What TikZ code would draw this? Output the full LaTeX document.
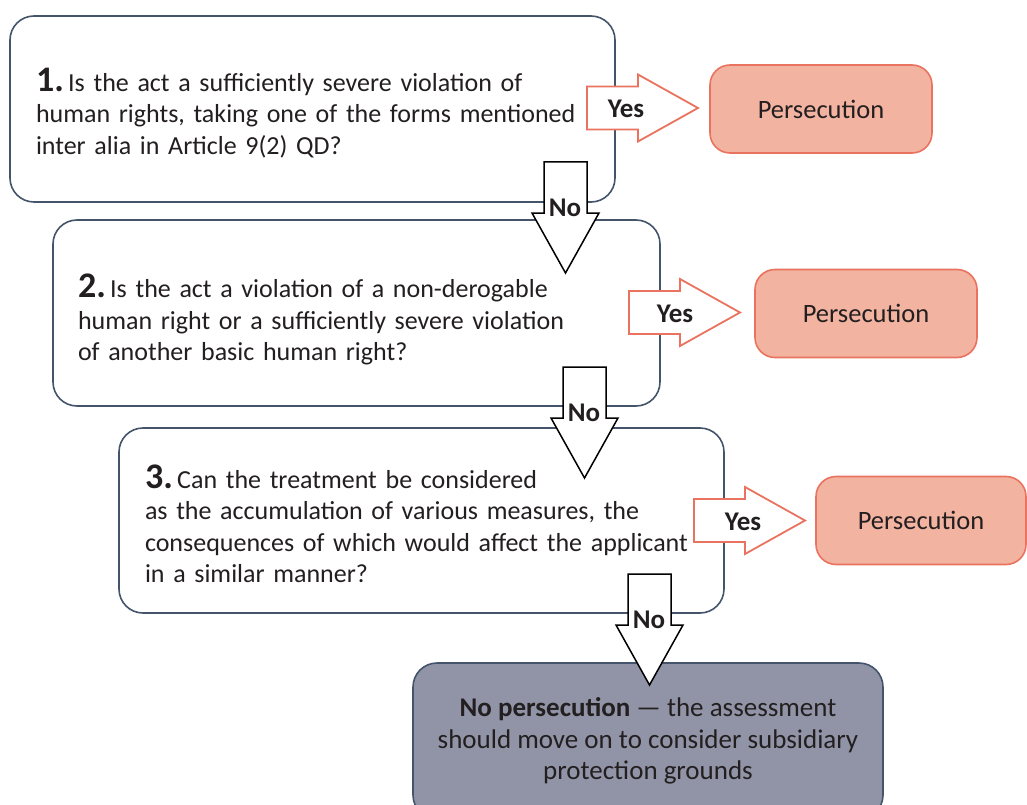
\documentclass[tikz,border=0pt]{standalone}
\usepackage{fontspec}
\setmainfont{Carlito}

\definecolor{boxline}{HTML}{44546A}
\definecolor{persline}{HTML}{E9735F}
\definecolor{persfill}{HTML}{F2B3A0}
\definecolor{finalfill}{HTML}{9094A6}
\definecolor{txt}{HTML}{231F20}

\tikzset{
  every node/.style={font=\fontsize{26}{31.5}\selectfont, text=txt},
  question/.style={draw=boxline, line width=1.6pt, fill=white, rounded corners=24pt,
    inner xsep=26pt, minimum height=186pt, text width=553pt, align=left},
  outcome/.style={draw=persline, fill=persfill, line width=1.6pt, rounded corners=20pt,
    minimum width=222pt, minimum height=88pt, font=\fontsize{26.5}{31.5}\selectfont},
  final/.style={draw=boxline, fill=finalfill, line width=1.6pt, rounded corners=24pt,
    minimum width=470pt, minimum height=156pt, align=center},
  yesarrow/.style={draw=persline, fill=white, line width=1.8pt},
  noarrow/.style={draw=black, fill=white, line width=1.5pt},
  arrowlbl/.style={font=\fontsize{27}{30}\selectfont\bfseries},
  pics/bigarrow/.style={code={
    \draw[#1] (0,-21.5) -- (51,-21.5) -- (51,-33.5) -- (111,0) -- (51,33.5)
      -- (51,21.5) -- (0,21.5) -- cycle;
  }}
}

% big bold step number, with a strut to push the text block down a little
\newcommand{\stepno}[2][31pt]{{\rule{0pt}{#1}\fontsize{36}{31.5}\selectfont\bfseries #2}}

\begin{document}
\begin{tikzpicture}[x=1pt,y=-1pt]
\useasboundingbox (0,0) rectangle (1027,805);

% questions
\node[question] (q1) at (312.5,109) {\stepno{1.}\,Is the act a sufficiently severe violation of\\
  human rights, taking one of the forms mentioned\\
  inter alia in Article 9(2) QD?};
\node[question, inner xsep=25pt, text width=557pt] (q2) at (356.5,313) {\stepno[37pt]{2.}\,Is the act a violation of a non-derogable\\
  human right or a sufficiently severe violation\\
  of another basic human right?};
\node[question, minimum height=185pt] (q3) at (421.5,520.5) {\stepno[30pt]{3.}\,Can the treatment be considered\\
  as the accumulation of various measures, the\\
  consequences of which would affect the applicant\\
  in a similar manner?};

% outcomes
\node[outcome] (p1) at (821,109) {Persecution};
\node[outcome] (p2) at (866,313.5) {Persecution};
\node[outcome, minimum width=210pt] (p3) at (921,520.5) {Persecution};

\node[final, font=\fontsize{27}{31.5}\selectfont] (np) at (648,741) {\textbf{No persecution} — the assessment\\
  should move on to consider subsidiary\\
  protection grounds};

% yes arrows
\pic at (587,108) {bigarrow=yesarrow};
\pic at (629,312.5) {bigarrow=yesarrow};
\pic at (694,520.5) {bigarrow=yesarrow};
\node[arrowlbl] (yes1) at (626,109) {Yes};
\node[arrowlbl] (yes2) at (675,314) {Yes};
\node[arrowlbl] (yes3) at (743,522) {Yes};

% no arrows
\pic[rotate=-90] at (565.5,162) {bigarrow=noarrow};
\pic[rotate=-90] at (584.5,367) {bigarrow=noarrow};
\pic[rotate=-90] at (649.5,574) {bigarrow=noarrow};
\node[arrowlbl] (no1) at (565,208) {No};
\node[arrowlbl] (no2) at (584,413) {No};
\node[arrowlbl] (no3) at (649,620) {No};
\end{tikzpicture}
\end{document}
